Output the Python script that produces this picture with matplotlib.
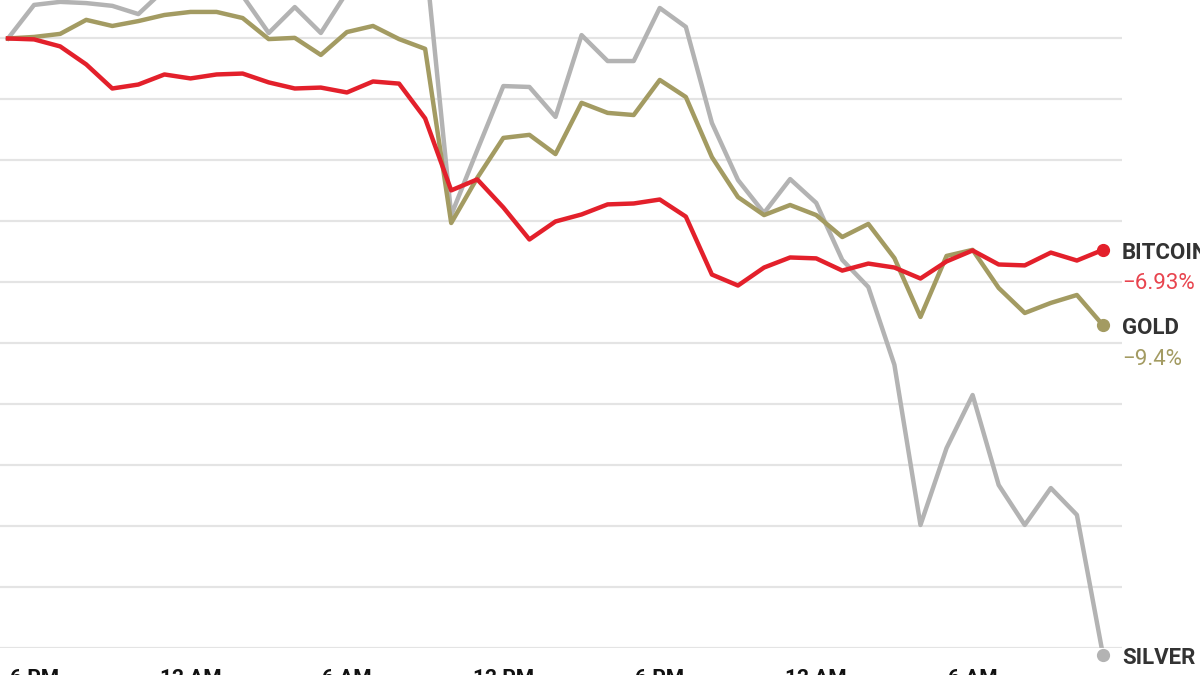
"""
Bitcoin vs gold vs silver, % change since 5 PM (hourly)
"""
import numpy as np
from matplotlib import pyplot as plt

# hours after 6 PM of day one
hours = list(range(-1, 42))

bitcoin = [0.0, -0.03, -0.26, -0.85, -1.64, -1.51, -1.18, -1.31, -1.18, -1.15,
           -1.44, -1.64, -1.61, -1.77, -1.41, -1.48, -2.62, -4.98, -4.62, -5.54,
           -6.59, -6.00, -5.77, -5.44, -5.41, -5.28, -5.84, -7.74, -8.10, -7.51,
           -7.18, -7.21, -7.61, -7.38, -7.51, -7.87, -7.31, -6.95, -7.41, -7.44,
           -7.02, -7.28, -6.93]

gold = [0.0, 0.05, 0.15, 0.61, 0.41, 0.57, 0.77, 0.87, 0.87, 0.67,
        -0.02, 0.02, -0.54, 0.21, 0.41, -0.02, -0.34, -6.05, -4.57, -3.26,
        -3.16, -3.79, -2.11, -2.44, -2.51, -1.36, -1.92, -3.89, -5.20, -5.79,
        -5.46, -5.79, -6.51, -6.08, -7.20, -9.13, -7.13, -6.93, -8.18, -9.00,
        -8.67, -8.41, -9.40]

silver = [0.0, 1.10, 1.20, 1.16, 1.07, 0.80, 1.60, 1.90, 1.80, 1.40,
          0.18, 1.03, 0.18, 1.52, 2.30, 2.00, 2.77, -5.79, -3.66, -1.56,
          -1.59, -2.57, 0.11, -0.74, -0.74, 1.00, 0.38, -2.77, -4.64, -5.72,
          -4.61, -5.39, -7.26, -8.15, -10.70, -15.95, -13.43, -11.69, -14.64, -15.95,
          -14.74, -15.62, -20.21]

tick_hours = [0, 6, 12, 18, 24, 30, 36]
tick_labels = ["6 PM", "12 AM", "6 AM", "12 PM", "6 PM", "12 AM", "6 AM"]

series = [
    ("SILVER", silver, "#b3b3b3", "#9a9a9a", "\u221220.21%"),
    ("GOLD", gold, "#a39b62", "#a39b62", "\u22129.4%"),
    ("BITCOIN", bitcoin, "#e3202b", "#e8444e", "\u22126.93%"),
]

plt.rcParams['font.family'] = ['Liberation Sans Narrow', 'Roboto', 'DejaVu Sans']

fig = plt.figure(figsize=(12, 6.75), dpi=100)
# the source picture is a crop: the plot runs off the top and the tick labels off the bottom
ax = fig.add_axes([0.0, 0.03926, 0.935, 1.0619])

ax.set_xlim(-1.307, 41.73)
ax.set_ylim(-20, 3.5)
ax.set_yticks(np.arange(-20, 1, 2))
ax.yaxis.grid(True, color='#e4e4e4', linewidth=1.6)
ax.axhline(0, color='#6a6a6a', linewidth=1.2, zorder=1.5)

for side in ['top', 'right', 'left', 'bottom']:
    ax.spines[side].set_visible(False)
ax.tick_params(axis='y', left=False, labelleft=False)
ax.tick_params(axis='x', bottom=False, pad=11)
ax.set_xticks(tick_hours)
ax.set_xticklabels(tick_labels, fontsize=15, fontweight='bold', color='#111111')

for z, (name, values, color, pct_color, pct) in enumerate(series):
    ax.plot(hours, values, color=color, linewidth=3.2, solid_joinstyle='round',
            zorder=2 + z)
    ax.plot(hours[-1], values[-1], 'o', color=color, markersize=8.5, zorder=2 + z,
            clip_on=False)
    ax.annotate(name, xy=(1.0, values[-1]), xycoords=('axes fraction', 'data'),
                xytext=(0, -3), textcoords='offset pixels', va='center', ha='left',
                fontsize=16, fontweight='bold', color='#333333', annotation_clip=False)
    ax.annotate(pct, xy=(1.0, values[-1]), xycoords=('axes fraction', 'data'),
                xytext=(0, -34), textcoords='offset pixels', va='center', ha='left',
                fontsize=16, color=pct_color, annotation_clip=False)

plt.savefig("out.png", dpi=100)
